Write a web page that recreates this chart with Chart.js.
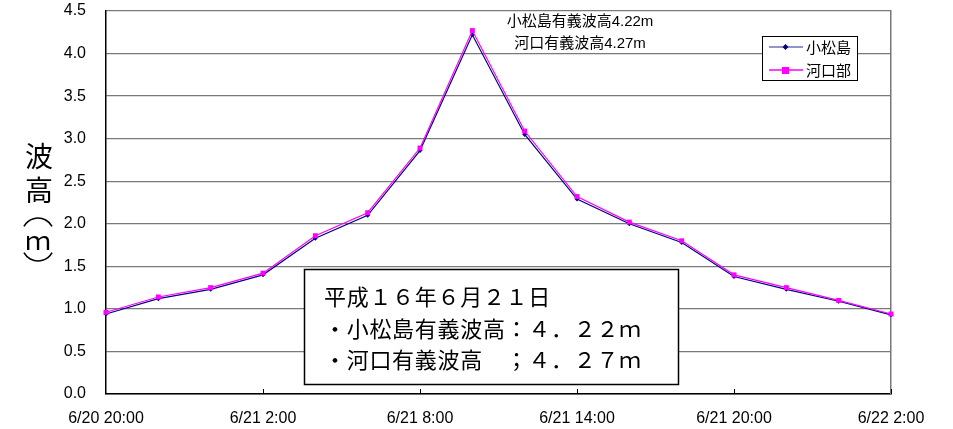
<!DOCTYPE html>
<html>
<head>
<meta charset="utf-8">
<script src="https://cdn.jsdelivr.net/npm/chart.js@4/dist/chart.umd.min.js"></script>
<style>
  html, body { margin: 0; padding: 0; background: #fff; }
  #wrap { width: 953px; height: 429px; }
</style>
</head>
<body>
<div id="wrap"><canvas id="waveChart" width="953" height="429"></canvas></div>
<script>
// time labels (every 2 hours, 6/20 20:00 -> 6/22 2:00)
const times = ['6/20 20:00', '22:00', '0:00', '6/21 2:00', '4:00', '6:00', '6/21 8:00', '10:00',
  '12:00', '6/21 14:00', '16:00', '18:00', '6/21 20:00', '22:00', '0:00', '6/22 2:00'];
const komatsushima = [0.94, 1.12, 1.23, 1.40, 1.83, 2.10, 2.86, 4.22, 3.05, 2.29, 2.00, 1.78, 1.38, 1.23, 1.09, 0.93];
const kakoubu = [0.96, 1.14, 1.25, 1.42, 1.86, 2.13, 2.89, 4.27, 3.09, 2.32, 2.02, 1.80, 1.40, 1.25, 1.10, 0.94];
const seriesNames = ['小松島', '河口部'];
const peakNotes = ['小松島有義波高4.22m', '河口有義波高4.27m'];
const boxLines = ['平成１６年６月２１日', '・小松島有義波高：４．２２ｍ', '・河口有義波高　；４．２７ｍ'];

const latin = '"Liberation Sans", Arial, sans-serif';
const jp = '"Liberation Sans", "Noto Sans CJK JP", sans-serif';

// draws the bits Excel put on top: inward ticks, y title, notes, legend, text box
const extras = {
    id: 'extras',
    afterDraw(chart) {
        const ctx = chart.ctx;
        const a = chart.chartArea;
        const x = chart.scales.x;
        ctx.save();

        // inward tick marks every 6 hours
        ctx.strokeStyle = '#000';
        ctx.lineWidth = 1;
        for (let i = 3; i < times.length; i += 3) {
            const px = Math.round(x.getPixelForValue(i)) + 0.5;
            ctx.beginPath();
            ctx.moveTo(px, a.bottom);
            ctx.lineTo(px, a.bottom - 5);
            ctx.stroke();
        }

        // y axis title, vertical writing
        ctx.fillStyle = '#000';
        ctx.font = '28px "Noto Sans CJK JP", sans-serif';
        ctx.textAlign = 'center';
        ctx.textBaseline = 'middle';
        ctx.fillText('波', 39, 156);
        ctx.fillText('高', 39, 190);
        ctx.textBaseline = 'alphabetic';
        ctx.font = '26px "Noto Sans CJK JP", sans-serif';
        ctx.fillText('ｍ', 38, 250);
        ctx.strokeStyle = '#000';
        ctx.lineWidth = 1.6;
        ctx.beginPath();
        ctx.arc(38, 234, 16, Math.PI + 0.5, 2 * Math.PI - 0.5);
        ctx.stroke();
        ctx.beginPath();
        ctx.arc(38, 245, 16, 0.5, Math.PI - 0.5);
        ctx.stroke();

        // peak notes
        ctx.textBaseline = 'middle';
        ctx.font = '15px ' + jp;
        ctx.fillText(peakNotes[0], 580, 22);
        ctx.fillText(peakNotes[1], 580, 44);

        // legend
        ctx.lineWidth = 1;
        ctx.fillStyle = '#fff';
        ctx.fillRect(762.5, 36.5, 95, 44);
        ctx.strokeStyle = '#000';
        ctx.strokeRect(762.5, 36.5, 95, 44);
        const legendRows = [
            { y: 47, color: '#7070b8', mark: '#000080', shape: 'diamond' },
            { y: 70, color: '#ff00ff', mark: '#ff00ff', shape: 'square' }
        ];
        legendRows.forEach((r, i) => {
            ctx.strokeStyle = r.color;
            ctx.lineWidth = 1.5;
            ctx.beginPath();
            ctx.moveTo(769, r.y);
            ctx.lineTo(803, r.y);
            ctx.stroke();
            ctx.fillStyle = r.mark;
            if (r.shape === 'diamond') {
                ctx.beginPath();
                ctx.moveTo(785.5, r.y - 3);
                ctx.lineTo(788.5, r.y);
                ctx.lineTo(785.5, r.y + 3);
                ctx.lineTo(782.5, r.y);
                ctx.closePath();
                ctx.fill();
            } else {
                ctx.fillRect(782, r.y - 3, 7, 7);
            }
            ctx.fillStyle = '#000';
            ctx.font = '15px "Noto Sans CJK JP", sans-serif';
            ctx.textAlign = 'left';
            ctx.fillText(seriesNames[i], 806, r.y);
        });

        // text box
        ctx.fillStyle = '#fff';
        ctx.fillRect(304.5, 269.5, 374, 115);
        ctx.strokeStyle = '#000';
        ctx.lineWidth = 1.5;
        ctx.strokeRect(304.5, 269.5, 374, 115);
        ctx.fillStyle = '#000';
        ctx.font = '22px "Noto Sans CJK JP", sans-serif';
        ctx.textAlign = 'left';
        ctx.letterSpacing = '0.7px';
        ctx.fillText(boxLines[0], 324, 297);
        ctx.fillText(boxLines[1], 324, 329);
        ctx.fillText(boxLines[2], 324, 360);

        ctx.restore();
    }
};

// keep tick labels from pushing the plot area down
const noPad = (s) => { s.paddingTop = 0; s.paddingBottom = 0; };

const ctx = document.getElementById('waveChart').getContext('2d');
new Chart(ctx, {
    type: 'line',
    data: {
        labels: times,
        datasets: [{
            label: seriesNames[0],
            data: komatsushima,
            borderColor: '#000080',
            backgroundColor: '#000080',
            borderWidth: 1.2,
            pointStyle: 'rectRot',
            pointRadius: 2.5,
            pointBorderWidth: 0,
            order: 1
        }, {
            label: seriesNames[1],
            data: kakoubu,
            borderColor: '#ff00ff',
            backgroundColor: '#ff00ff',
            borderWidth: 1.2,
            pointStyle: 'rect',
            pointRadius: 3.5,
            pointBorderWidth: 0,
            order: 0
        }]
    },
    options: {
        responsive: false,
        animation: false,
        layout: { padding: { top: 11, right: 62, left: 0, bottom: 0 } },
        plugins: {
            legend: { display: false },
            tooltip: { enabled: false }
        },
        scales: {
            x: {
                offset: false,
                grid: { display: false, drawTicks: false },
                border: { color: '#000', width: 1.5 },
                ticks: {
                    autoSkip: false,
                    maxRotation: 0,
                    color: '#000',
                    padding: 15,
                    font: { family: latin, size: 16 },
                    callback: (v, i) => (i % 3 === 0 ? times[i] : '')
                },
                afterFit: (s) => { s.height = 35; }
            },
            y: {
                min: 0,
                max: 4.5,
                grid: { color: '#7a7a7a', lineWidth: 1.3, drawTicks: false },
                border: { color: '#000', width: 1.5 },
                ticks: {
                    stepSize: 0.5,
                    color: '#000',
                    padding: 20,
                    font: { family: latin, size: 16 },
                    callback: (v) => v.toFixed(1)
                },
                afterFit: (s) => { s.width = 106; noPad(s); }
            },
            y2: {
                position: 'right',
                min: 0,
                max: 4.5,
                grid: { display: false, drawTicks: false },
                border: { color: '#777', width: 1.5 },
                ticks: { display: false },
                afterFit: (s) => { s.width = 0; noPad(s); }
            }
        }
    },
    plugins: [extras]
});
</script>
</body>
</html>
